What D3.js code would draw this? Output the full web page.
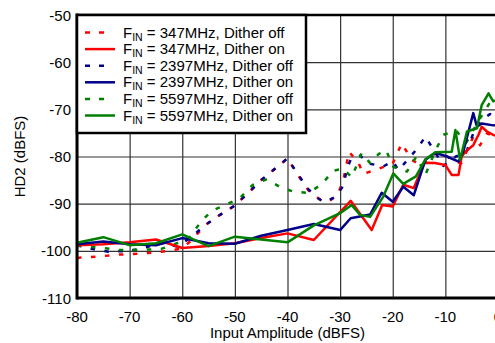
<!DOCTYPE html>
<html>
<head>
<meta charset="utf-8">
<script src="https://cdn.jsdelivr.net/npm/d3@7"></script>
<style>
body { margin: 0; background: #fff; }
text { font-family: "Liberation Sans", Arial, Helvetica, sans-serif; }
</style>
</head>
<body>
<div id="chart"></div>
<script>
// axis ticks
var xTicks = [-80, -70, -60, -50, -40, -30, -20, -10, 0];
var yTicks = [-110, -100, -90, -80, -70, -60, -50];

// series: [input amplitude (dBFS), HD2 (dBFS)]
var fin347Off = [[-80,-101.5],[-76,-101.2],[-72,-100.8],[-68,-100.6],[-64,-100.2],[-60,-99.5],[-58,-97.5],[-55.7,-94.6],[-53,-92.5],[-50.3,-90.6],[-47.7,-88],[-45,-85],[-42.5,-82.7],[-40,-80.4],[-38,-84],[-36,-87.2],[-34,-89],[-32,-89.4],[-30.5,-88.2],[-29.4,-85],[-28.3,-79],[-26.5,-81.4],[-25.6,-83.7],[-22.7,-82.6],[-20,-81.5],[-18.3,-77.2],[-16.4,-80.7],[-14.5,-82],[-13,-80],[-11,-79],[-9,-80.5],[-7,-81.5],[-4.7,-75.8],[-3.4,-77.6],[-2.1,-75.1],[0,-76]];
var fin347On = [[-80,-98.8],[-75,-98.6],[-70,-98.2],[-65,-97.6],[-60,-99.4],[-55,-99],[-50,-98.4],[-45,-97.3],[-40,-96.3],[-35,-97.7],[-28,-89.4],[-24,-95.6],[-22,-90.3],[-20,-90.6],[-18,-86],[-16,-86.7],[-14,-81.3],[-12,-81.4],[-10,-81.8],[-8.8,-83.9],[-7.5,-83.9],[-6.9,-80],[-6.2,-79],[-4.7,-77.6],[-3.7,-75.4],[-3.1,-73.7],[-2.1,-74.7],[-0.9,-75.4],[0,-75.8]];
var fin2397Off = [[-80,-98.8],[-77,-99.6],[-74,-100.2],[-70,-100],[-67,-99.3],[-64,-98.3],[-61,-99.1],[-58.5,-97.3],[-55.7,-94.6],[-53,-92.5],[-50.3,-90.6],[-47.7,-88],[-45,-85],[-42.5,-82.7],[-40,-80.4],[-38,-83.8],[-36,-87],[-34,-89],[-33,-89.7],[-31,-88.6],[-29.5,-86.4],[-28.5,-82],[-28,-80.7],[-26.2,-79.8],[-24.5,-81.5],[-21.8,-82.1],[-20,-81],[-18.9,-82.9],[-15.4,-78.4],[-13.8,-75.8],[-12,-79],[-10.4,-82],[-8,-80],[-6,-79],[-4.5,-74.5],[-3.1,-72.3],[-1.5,-71],[0,-72]];
var fin2397On = [[-80,-98.6],[-75,-98],[-70,-98.6],[-65,-98.8],[-60,-97.3],[-55,-98.4],[-50,-98.5],[-45,-96.8],[-40,-95.6],[-35,-94.3],[-30,-95.6],[-28,-93.1],[-24.3,-92.3],[-22.1,-87.7],[-20,-89.6],[-18,-86.4],[-16,-88.2],[-13.8,-80.7],[-11.9,-79.2],[-9.7,-80],[-7.5,-81.1],[-6.6,-79],[-4.7,-70.8],[-4,-73.7],[-3.1,-73],[-0.9,-73.4],[0,-73.3]];
var fin5597Off = [[-80,-98.9],[-76,-99.3],[-72,-99.8],[-68,-99.8],[-64,-99.6],[-61,-98.4],[-58.5,-97],[-56.5,-93.9],[-54.4,-91.5],[-51.9,-90.3],[-49.1,-88.9],[-46.6,-86],[-43.9,-84.8],[-41.4,-86.5],[-38.7,-87.5],[-36,-87.7],[-33.5,-85.9],[-31.3,-83],[-29.4,-82.6],[-27.8,-84.4],[-25.9,-79.3],[-24.3,-81.4],[-22.7,-79.5],[-21.3,-78.6],[-19.9,-82.2],[-17.3,-83.2],[-15.5,-80],[-13.8,-83.9],[-12,-79],[-10.4,-75.4],[-8,-74.5],[-6,-77],[-4,-73],[-2.8,-70.8],[-1.5,-68.5],[0,-70]];
var fin5597On = [[-80,-98.3],[-75,-97.1],[-70,-98.8],[-65,-98.4],[-60,-96.5],[-55,-99],[-50,-97],[-45,-97.6],[-40,-98.2],[-35,-94.6],[-30,-92],[-27.8,-90.3],[-26.2,-92.4],[-24.3,-92.8],[-21.8,-88.5],[-19.9,-83.6],[-18,-85.8],[-15.6,-84.2],[-13.8,-80.6],[-11.9,-79.1],[-8.8,-79],[-8.1,-74.4],[-7.2,-80.7],[-5.9,-74.7],[-4,-74],[-3.1,-69.1],[-1.8,-66.6],[-0.9,-68.3],[0,-68]];

var seriesNames = ["347MHz, Dither off", "347MHz, Dither on", "2397MHz, Dither off", "2397MHz, Dither on", "5597MHz, Dither off", "5597MHz, Dither on"];
var seriesColors = ["#ff0000", "#ff0000", "#000088", "#000088", "#008000", "#008000"];
var seriesDashed = [true, false, true, false, true, false];
var seriesData = [fin347Off, fin347On, fin2397Off, fin2397On, fin5597Off, fin5597On];

function hd2chart(){
	var margin = {top: 15, right: 0, bottom: 45, left: 77};
	var width = 421, height = 283;

	var svg = d3.select("#chart")
		.append("svg")
		.attr("width", 495)
		.attr("height", 343)
		.append("g")
		.attr("transform", "translate(" + margin.left + "," + margin.top + ")");

	var x = d3.scaleLinear().domain([-80, 0]).range([0, width]);
	var y = d3.scaleLinear().domain([-110, -50]).range([height, 0]);

	// grid
	svg.append("g")
		.attr("class", "grid")
		.attr("transform", "translate(0," + height + ")")
		.call(d3.axisBottom(x).tickValues(xTicks).tickSize(-height).tickFormat(""));
	svg.append("g")
		.attr("class", "grid")
		.call(d3.axisLeft(y).tickValues(yTicks).tickSize(-width).tickFormat(""));
	svg.selectAll(".grid .domain").remove();
	svg.selectAll(".grid line").attr("stroke", "#333").attr("stroke-width", 1.2);

	// series, dashed first
	var line = d3.line().x(d => x(d[0])).y(d => y(d[1]));
	var order = [0, 2, 4, 1, 3, 5];
	order.forEach(function(i){
		svg.append("path")
			.datum(seriesData[i])
			.attr("fill", "none")
			.attr("stroke", seriesColors[i])
			.attr("stroke-width", 2.5)
			.attr("stroke-linejoin", "round")
			.attr("stroke-dasharray", seriesDashed[i] ? "4.5,9.5" : null)
			.attr("d", line);
	});

	// frame
	svg.append("line").attr("x1", 0).attr("x2", 0).attr("y1", -1.5).attr("y2", height + 1.5)
		.attr("stroke", "#000").attr("stroke-width", 3);
	svg.append("line").attr("x1", 0).attr("x2", width + 5).attr("y1", height).attr("y2", height)
		.attr("stroke", "#000").attr("stroke-width", 3);
	svg.append("line").attr("x1", 0).attr("x2", width + 5).attr("y1", 0).attr("y2", 0)
		.attr("stroke", "#000").attr("stroke-width", 2.5);

	// tick labels
	svg.selectAll("xlab")
		.data(xTicks)
		.enter()
		.append("text")
		.attr("x", d => x(d))
		.attr("y", height + 24)
		.attr("text-anchor", "middle")
		.attr("font-size", "15px")
		.text(d => d);
	svg.selectAll("ylab")
		.data(yTicks)
		.enter()
		.append("text")
		.attr("x", -6)
		.attr("y", d => y(d) + 5.5)
		.attr("text-anchor", "end")
		.attr("font-size", "15px")
		.text(d => d);

	// axis titles
	svg.append("text")
		.attr("x", width / 2)
		.attr("y", height + 40)
		.attr("text-anchor", "middle")
		.attr("font-size", "15px")
		.text("Input Amplitude (dBFS)");
	svg.append("text")
		.attr("transform", "rotate(-90)")
		.attr("x", -height / 2)
		.attr("y", -52)
		.attr("text-anchor", "middle")
		.attr("font-size", "15px")
		.text("HD2 (dBFS)");

	// legend
	var lg = svg.append("g");
	lg.append("rect")
		.attr("x", 0).attr("y", 0)
		.attr("width", 229).attr("height", 118)
		.attr("fill", "#fff")
		.attr("stroke", "#000")
		.attr("stroke-width", 2.5);
	seriesNames.forEach(function(name, i){
		var by = 22.5 + i * 16.6;
		lg.append("line")
			.attr("x1", 8).attr("x2", seriesDashed[i] ? 30 : 38)
			.attr("y1", by - 5).attr("y2", by - 5)
			.attr("stroke", seriesColors[i])
			.attr("stroke-width", 2.5)
			.attr("stroke-dasharray", seriesDashed[i] ? "5,9" : null);
		var t = lg.append("text")
			.attr("x", 46).attr("y", by)
			.attr("font-size", "15px");
		t.append("tspan").text("F");
		t.append("tspan").attr("font-size", "10.5px").attr("dy", 3).text("IN");
		t.append("tspan").attr("dy", -3).text(" = " + name);
	});
}

hd2chart();
</script>
</body>
</html>
